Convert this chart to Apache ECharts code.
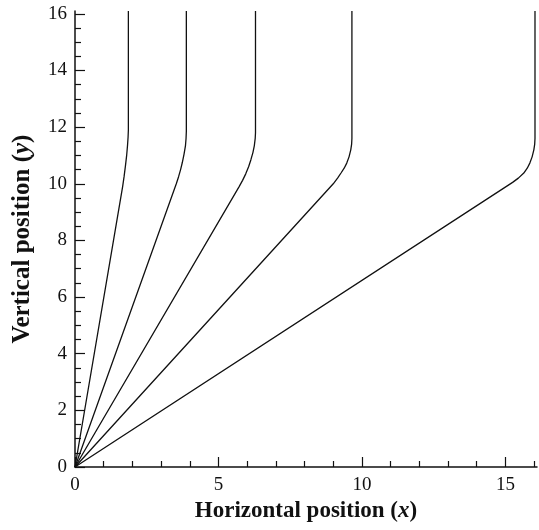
<!DOCTYPE html>
<html>
<head>
<meta charset="utf-8">
<script src="https://cdn.jsdelivr.net/npm/echarts@6/dist/echarts.min.js"></script>
<style>html,body{margin:0;padding:0;background:#fff}#c{width:539px;height:530px}</style>
</head>
<body>
<div id="c"></div>
<script>
// Data (x, y pairs)
const line1 = [[0,0],[1.66,9.9],[1.71,10.25],[1.76,10.65],[1.80,11.0],[1.83,11.35],[1.85,11.65],[1.86,11.9],[1.86,16.1]];
const line2 = [[0,0],[3.53,10.0],[3.61,10.25],[3.68,10.5],[3.74,10.75],[3.80,11.05],[3.85,11.35],[3.87,11.6],[3.88,11.85],[3.88,16.1]];
const line3 = [[0,0],[5.72,9.9],[5.84,10.12],[5.95,10.35],[6.05,10.6],[6.13,10.85],[6.20,11.1],[6.25,11.35],[6.28,11.6],[6.29,11.8],[6.29,16.1]];
const line4 = [[0,0],[9.0,10.0],[9.15,10.2],[9.27,10.38],[9.38,10.55],[9.47,10.73],[9.55,10.95],[9.61,11.2],[9.64,11.4],[9.65,11.6],[9.65,16.1]];
const line5 = [[0,0],[15.25,10.05],[15.45,10.2],[15.64,10.38],[15.76,10.55],[15.85,10.73],[15.93,10.95],[15.99,11.2],[16.02,11.4],[16.03,11.6],[16.03,16.1]];
const lines = [line1, line2, line3, line4, line5];

const xMajor = [0, 5, 10, 15];
const xMinor = [1, 2, 3, 4, 6, 7, 8, 9, 11, 12, 13, 14, 16];
const yMajor = [0, 2, 4, 6, 8, 10, 12, 14, 16];
const yMinor = [0.5, 1, 1.5, 2.5, 3, 3.5, 4.5, 5, 5.5, 6.5, 7, 7.5, 8.5, 9, 9.5, 10.5, 11, 11.5, 12.5, 13, 13.5, 14.5, 15, 15.5];
const xMax = 16.1, yMax = 16.1;

const FONT = 'Liberation Serif';
const chart = echarts.init(document.getElementById('c'));
const labelStyle = { color: '#111', fontFamily: FONT, fontSize: 19 };
const makeRich = (size) => ({
  b: { fontFamily: FONT, fontSize: size, fontWeight: 'bold', color: '#111' },
  i: { fontFamily: FONT, fontSize: size, fontWeight: 'bold', fontStyle: 'italic', color: '#111' }
});

chart.setOption({
  animation: false,
  backgroundColor: '#fff',
  grid: { left: 75, right: 2, top: 11, bottom: 63, containLabel: false },
  xAxis: [
    {
      type: 'value', min: 0, max: xMax, position: 'bottom',
      axisLine: { show: true, lineStyle: { color: '#111', width: 1.5 } },
      axisTick: { show: true, inside: true, length: 10, customValues: xMajor, lineStyle: { color: '#111', width: 1.2 } },
      axisLabel: { show: true, customValues: xMajor, margin: 9, ...labelStyle },
      splitLine: { show: false },
      name: '{b|Horizontal position (}{i|x}{b|)}',
      nameLocation: 'middle', nameGap: 28,
      nameTextStyle: { rich: makeRich(23) }
    },
    {
      type: 'value', min: 0, max: xMax, position: 'bottom',
      axisLine: { show: false },
      axisTick: { show: true, inside: true, length: 6, customValues: xMinor, lineStyle: { color: '#111', width: 1.2 } },
      axisLabel: { show: false },
      splitLine: { show: false }
    }
  ],
  yAxis: [
    {
      type: 'value', min: 0, max: yMax, position: 'left',
      axisLine: { show: true, lineStyle: { color: '#111', width: 1.5 } },
      axisTick: { show: true, inside: true, length: 10, customValues: yMajor, lineStyle: { color: '#111', width: 1.2 } },
      axisLabel: { show: true, customValues: yMajor, margin: 8, ...labelStyle },
      splitLine: { show: false },
      name: '{b|Vertical position (}{i|y}{b|)}',
      nameLocation: 'middle', nameGap: 40, nameRotate: 90,
      nameTextStyle: { rich: makeRich(25) }
    },
    {
      type: 'value', min: 0, max: yMax, position: 'left',
      axisLine: { show: false },
      axisTick: { show: true, inside: true, length: 6, customValues: yMinor, lineStyle: { color: '#111', width: 1.2 } },
      axisLabel: { show: false },
      splitLine: { show: false }
    }
  ],
  series: lines.map(d => ({
    type: 'line', data: d, xAxisIndex: 0, yAxisIndex: 0,
    showSymbol: false, symbol: 'none', silent: true,
    lineStyle: { color: '#111', width: 1.3 }
  }))
});
</script>
</body>
</html>
